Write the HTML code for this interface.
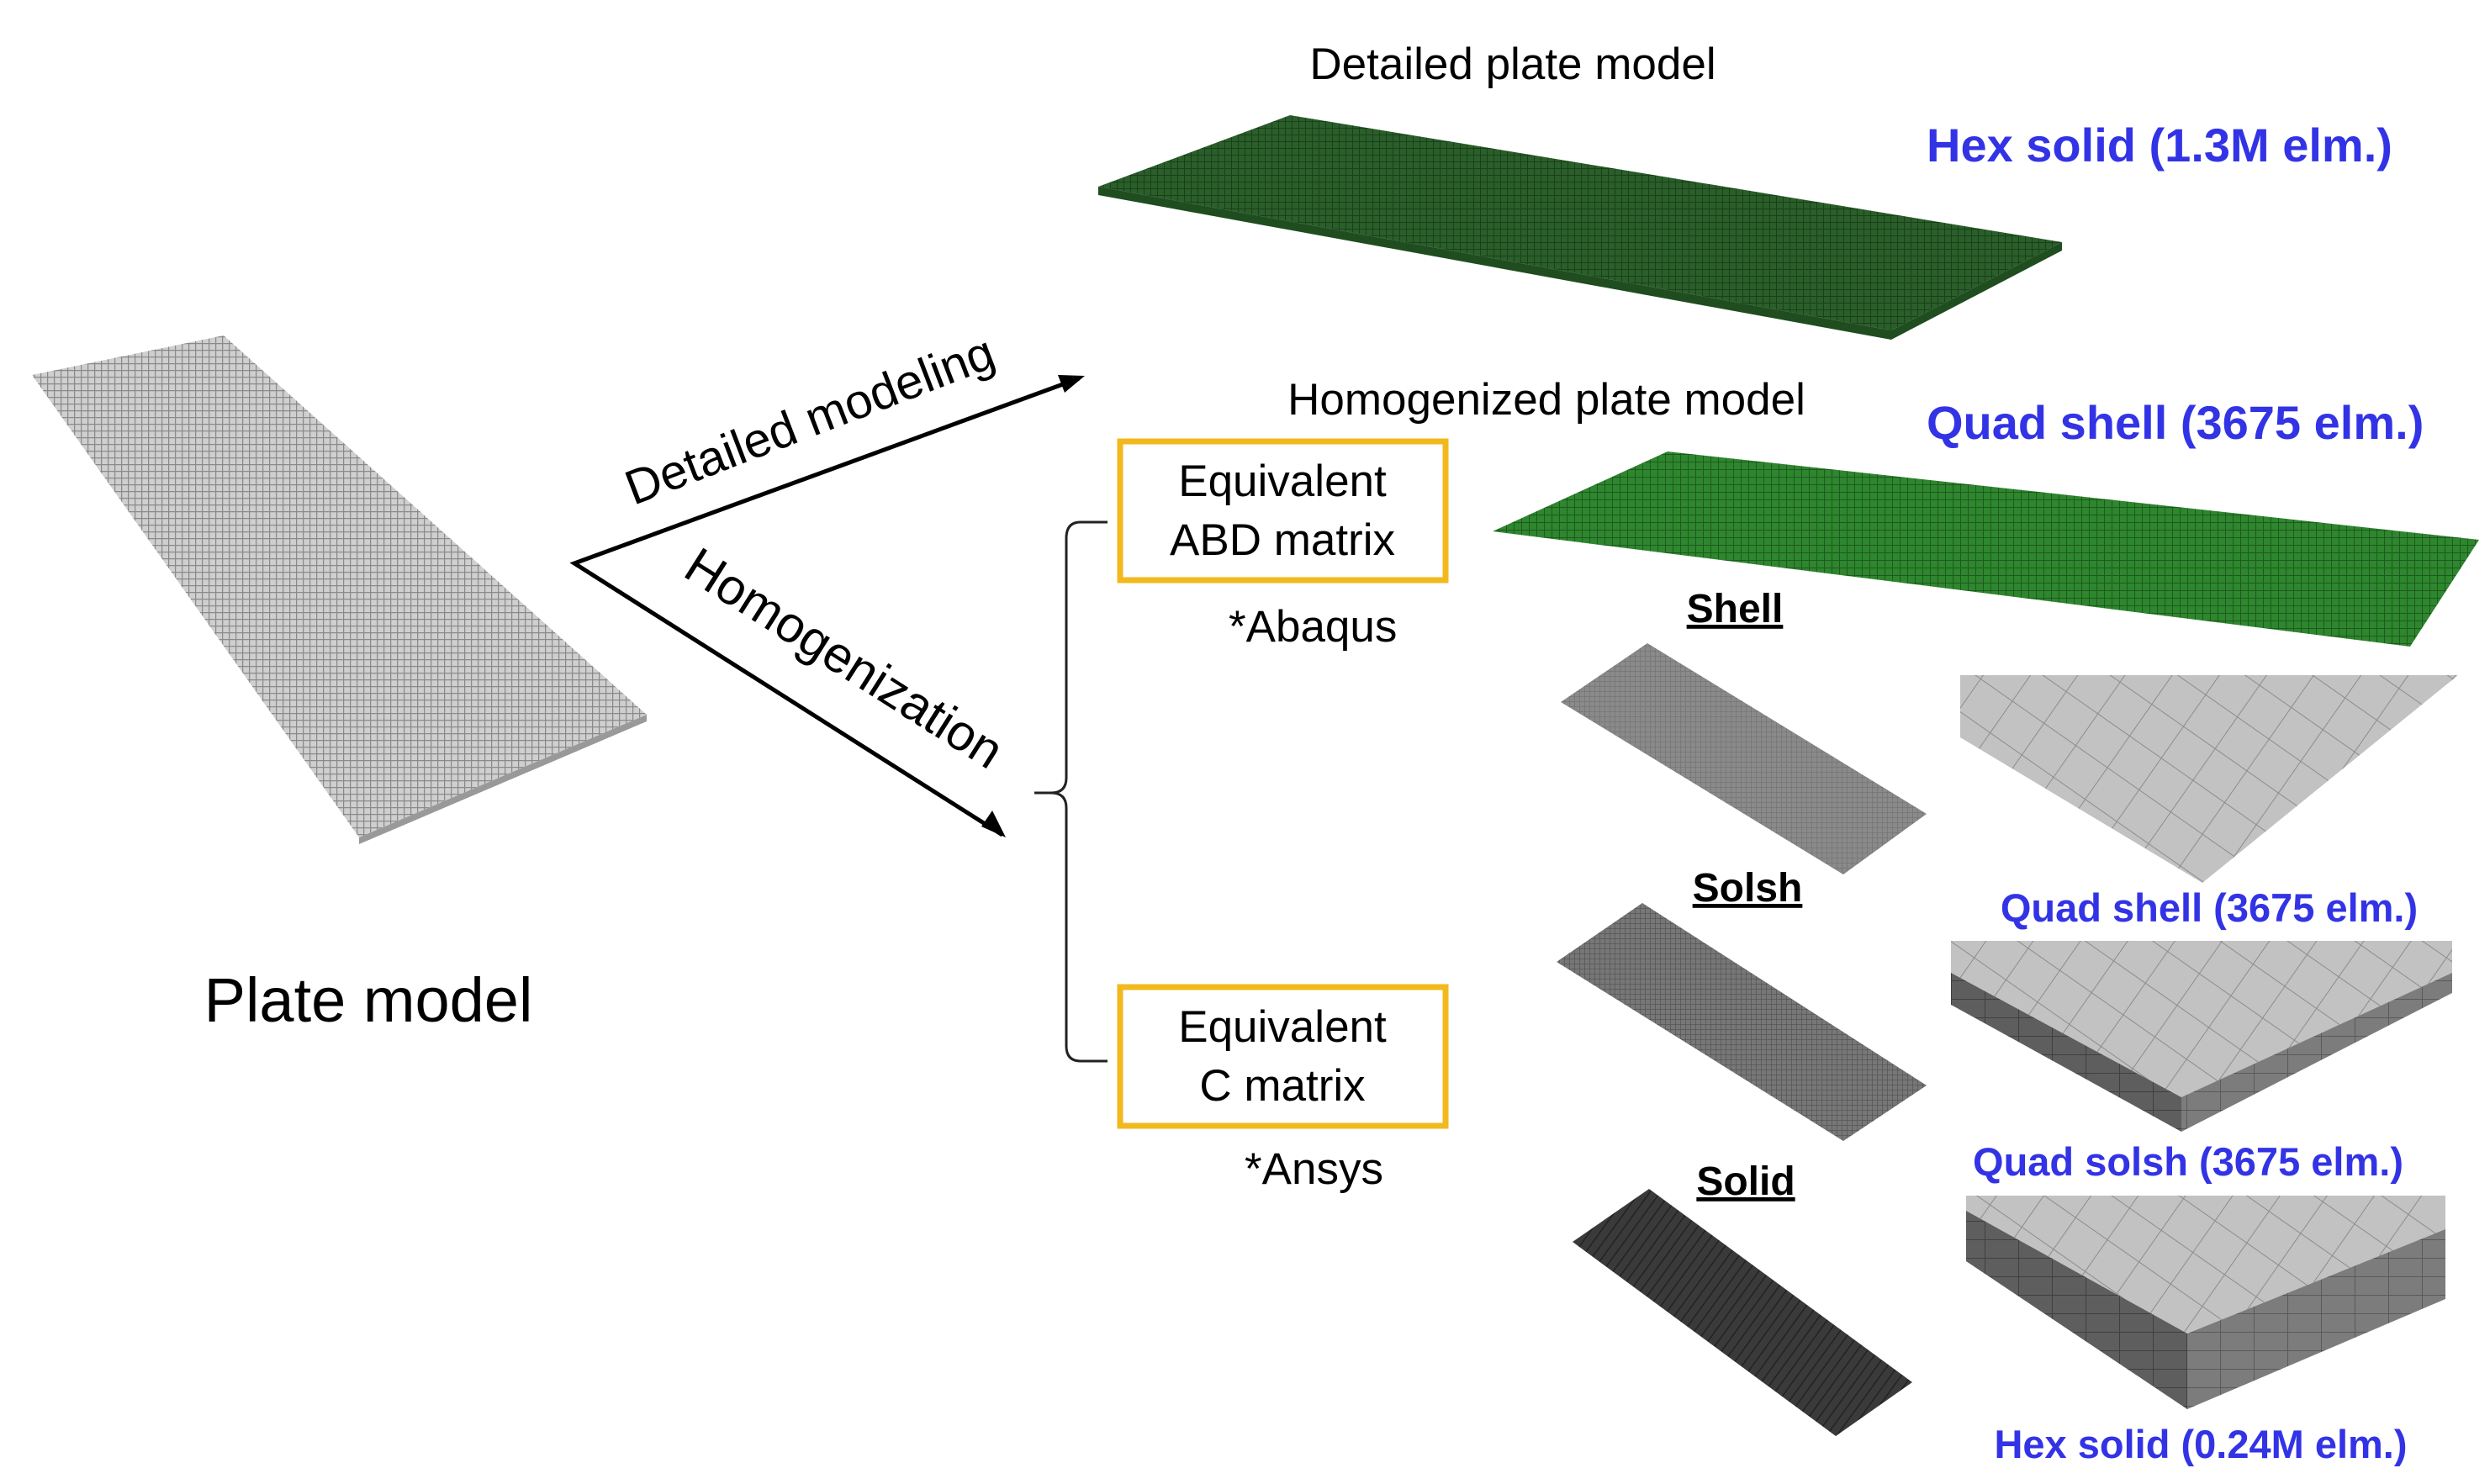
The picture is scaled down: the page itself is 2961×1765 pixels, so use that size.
<!DOCTYPE html>
<html><head><meta charset="utf-8"><style>
html,body{margin:0;padding:0;background:#fff;}
svg{display:block;}
text{font-family:"Liberation Sans",Arial,sans-serif;}
</style></head><body>
<svg width="2961" height="1765" viewBox="0 0 2961 1765" xmlns="http://www.w3.org/2000/svg">
<defs>
<pattern id="gg" width="8" height="8" patternUnits="userSpaceOnUse"><rect width="8" height="8" fill="#cfcfcf"/><path d="M0 0H8M0 0V8" stroke="#8a8a8a" stroke-width="2.5"/></pattern>
<pattern id="gr" width="8" height="8" patternUnits="userSpaceOnUse"><rect width="8" height="8" fill="#2a5e2a"/><path d="M0 0H8M0 0V8" stroke="#1a401a" stroke-width="2"/></pattern>
<pattern id="gr2" width="9" height="9" patternUnits="userSpaceOnUse"><rect width="9" height="9" fill="#2e862e"/><path d="M0 0H9M0 0V9" stroke="#1e5a1e" stroke-width="2"/></pattern>
<pattern id="sh" width="6" height="6" patternUnits="userSpaceOnUse"><rect width="6" height="6" fill="#8a8a8a"/><path d="M0 0H6M0 0V6" stroke="#747474" stroke-width="1.5"/></pattern>
<pattern id="so" width="6" height="6" patternUnits="userSpaceOnUse"><rect width="6" height="6" fill="#777"/><path d="M0 0H6M0 0V6" stroke="#555" stroke-width="1.5"/></pattern>
<pattern id="sd" width="10" height="10" patternUnits="userSpaceOnUse" patternTransform="rotate(36)"><rect width="10" height="10" fill="#3a3a3a"/><path d="M0 0V10" stroke="#222" stroke-width="3"/></pattern>
<pattern id="big" width="46" height="46" patternUnits="userSpaceOnUse" patternTransform="rotate(35)"><rect width="46" height="46" fill="#c2c2c2"/><path d="M0 0H46M0 0V46" stroke="#8c8c8c" stroke-width="2"/></pattern>
<pattern id="side" width="40" height="22" patternUnits="userSpaceOnUse"><rect width="40" height="22" fill="#5e5e5e"/><path d="M0 0H40M0 0V22" stroke="#404040" stroke-width="2"/></pattern>
<pattern id="side2" width="40" height="22" patternUnits="userSpaceOnUse"><rect width="40" height="22" fill="#7c7c7c"/><path d="M0 0H40M0 0V22" stroke="#5a5a5a" stroke-width="2"/></pattern>
</defs>

<!-- Plate model -->
<polygon points="38,446 266,399 769,850 427,996" fill="url(#gg)"/>
<polygon points="427,996 769,850 769,858 427,1004" fill="#999"/>
<text x="438" y="1215" font-size="74" text-anchor="middle">Plate model</text>

<!-- arrows -->
<polyline points="1283,450 683,670 1192,993" fill="none" stroke="#000" stroke-width="5"/>
<polygon points="1290,447 1258,446 1266,467" fill="#000"/>
<polygon points="1196,996 1167,983 1180,964" fill="#000"/>
<text transform="translate(970,518) rotate(-21)" font-size="58" text-anchor="middle">Detailed modeling</text>
<text transform="translate(993,800) rotate(32.4)" font-size="60" text-anchor="middle">Homogenization</text>

<!-- bracket -->
<path d="M1317,621 H1285 Q1268,621 1268,640 V925 Q1268,943 1250,943 H1230 M1250,943 Q1268,943 1268,961 V1244 Q1268,1262 1285,1262 H1317" fill="none" stroke="#222" stroke-width="3"/>

<!-- boxes -->
<rect x="1332" y="525" width="387" height="165" fill="#fff" stroke="#f2b91d" stroke-width="7"/>
<text x="1525" y="590" font-size="53" text-anchor="middle">Equivalent</text>
<text x="1525" y="660" font-size="53" text-anchor="middle">ABD matrix</text>
<text x="1461" y="763" font-size="53">*Abaqus</text>
<rect x="1332" y="1174" width="387" height="165" fill="#fff" stroke="#f2b91d" stroke-width="7"/>
<text x="1525" y="1239" font-size="53" text-anchor="middle">Equivalent</text>
<text x="1525" y="1309" font-size="53" text-anchor="middle">C matrix</text>
<text x="1480" y="1408" font-size="53">*Ansys</text>

<!-- detailed plate -->
<text x="1799" y="94" font-size="53" text-anchor="middle">Detailed plate model</text>
<polygon points="1306,222 1534,137 2452,288 2249,393" fill="url(#gr)"/>
<polygon points="1306,222 2249,393 2452,288 2452,298 2249,404 1306,232" fill="#1f4d1f"/>
<text x="2291" y="192" font-size="56" font-weight="bold" fill="#3333e6">Hex solid (1.3M elm.)</text>

<!-- homogenized plate -->
<text x="1839" y="493" font-size="53" text-anchor="middle">Homogenized plate model</text>
<text x="2291" y="522" font-size="56" font-weight="bold" fill="#3333e6">Quad shell (3675 elm.)</text>
<polygon points="1775,632 1983,537 2948,642 2866,769" fill="url(#gr2)"/>

<!-- labels -->
<g font-size="48" font-weight="bold" text-anchor="middle" text-decoration="underline">
<text x="2063" y="740">Shell</text>
<text x="2078" y="1072">Solsh</text>
<text x="2076" y="1421">Solid</text>
</g>
<polygon points="1856,835 1959,765 2291,968 2192,1040" fill="url(#sh)"/>
<polygon points="1851,1144 1953,1074 2291,1291 2192,1357" fill="url(#so)"/>
<polygon points="1870,1477 1961,1414 2274,1644 2183,1708" fill="url(#sd)"/>

<!-- zoom views -->
<polygon points="2331,803 2923,803 2619,1050 2331,877" fill="url(#big)"/>
<text x="2627" y="1096" font-size="47" font-weight="bold" fill="#3333e6" text-anchor="middle">Quad shell (3675 elm.)</text>

<polygon points="2320,1119 2916,1119 2916,1157 2594,1305 2320,1157" fill="url(#big)"/>
<polygon points="2320,1157 2594,1305 2594,1346 2320,1195" fill="url(#side)"/>
<polygon points="2594,1305 2916,1157 2916,1181 2594,1346" fill="url(#side2)"/>
<text x="2602" y="1398" font-size="47" font-weight="bold" fill="#3333e6" text-anchor="middle">Quad solsh (3675 elm.)</text>

<polygon points="2338,1422 2908,1422 2908,1462 2601,1586 2338,1440" fill="url(#big)"/>
<polygon points="2338,1422 2338,1500 2601,1676 2601,1586 2338,1440" fill="url(#side)"/>
<polygon points="2601,1586 2908,1462 2908,1545 2601,1676" fill="url(#side2)"/>
<text x="2617" y="1734" font-size="47" font-weight="bold" fill="#3333e6" text-anchor="middle">Hex solid (0.24M elm.)</text>
</svg>
</body></html>
